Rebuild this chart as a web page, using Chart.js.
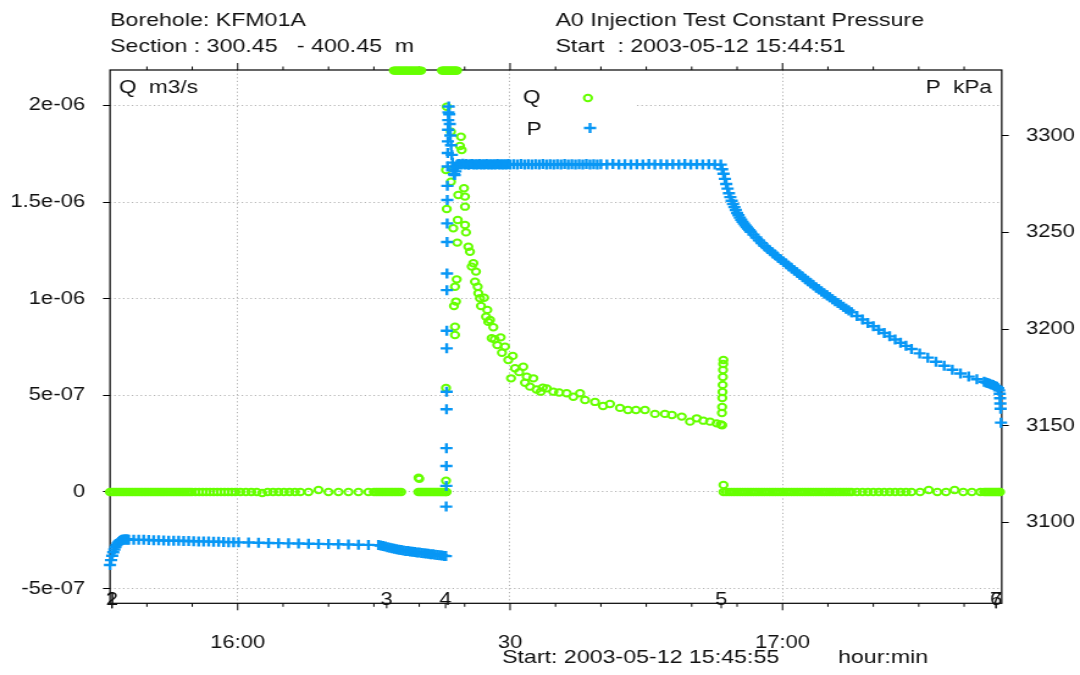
<!DOCTYPE html>
<html>
<head>
<meta charset="utf-8">
<title>KFM01A - A0 Injection Test Constant Pressure</title>
<script src="https://cdn.jsdelivr.net/npm/chart.js@4.4.1/dist/chart.umd.min.js"></script>
<style>
  html, body { margin: 0; padding: 0; background: #fff; }
</style>
</head>
<body>
<!-- drawn at 885 px and stretched to the 1080 px page width -->
<canvas id="grafico" width="885" height="675" style="display:block;width:1080px;height:675px"></canvas>
<script>
// time axis in minutes after 15:00 (2003-05-12)
const timeMin = 45.94;
const timeMax = 144.14;
const minuteTicks = [50, 55, 60, 65, 70, 75, 80, 85, 90, 95, 100, 105, 110, 115, 120, 125, 130, 135, 140];
const majorMinutes = [60, 90, 120];
const majorLabels = ["16:00", "30", "17:00"];

// flow axis (left), m3/s
const qMin = -5.758e-7;
const qMax = 2.183e-6;
const qTicks = [-5e-7, 0, 5e-7, 1e-6, 1.5e-6, 2e-6];
const qTickLabels = ["-5e-07", "0", "5e-07", "1e-06", "1.5e-06", "2e-06"];

// pressure axis (right), kPa
const pMin = 3058.2;
const pMax = 3333.9;
const pTicks = [3100, 3150, 3200, 3250, 3300];
const pTickLabels = ["3100", "3150", "3200", "3250", "3300"];

// test events
const eventMinutes = [46.16, 46.16, 76.41, 82.89, 113.25, 143.51, 143.51];
const eventLabels = ["1", "2", "3", "4", "5", "6", "7"];

// flow readings [minute, m3/s]
const qPoints = [
  [45.94,0],[46.2,0],[46.45,0],[46.7,0],[46.95,0],[47.2,0],[47.45,0],[47.7,0],[47.95,0],[48.2,0],
  [48.45,0],[48.7,0],[48.95,0],[49.2,0],[49.45,0],[49.7,0],[49.95,0],[50.2,0],[50.45,0],[50.7,0],
  [50.95,0],[51.2,0],[51.45,0],[51.7,0],[51.95,0],[52.2,0],[52.45,0],[52.7,0],[52.95,0],[53.2,0],
  [53.45,0],[53.7,0],[53.95,0],[54.2,0],[54.45,0],[54.7,0],[54.95,0],[55.35,0],[55.75,0],[56.15,0],
  [56.55,0],[56.95,0],[57.35,0],[57.75,0],[58.15,0],[58.55,0],[58.95,0],[59.35,0],[59.75,0],
  [60.3,0],[60.9,0],[61.5,0],[62.1,0],[62.7,-5e-9],[63.3,0],[63.9,0],[64.5,0],[65.1,0],[65.7,0],[66.3,0],[66.9,0],
  [67.8,0],[68.9,1e-8],[70.0,0],[71.1,0],[72.2,0],[73.3,0],[74.4,0],
  [75.0,0],[75.25,0],[75.5,0],[75.75,0],[76.0,0],[76.25,0],[76.5,0],[76.75,0],[77.0,0],[77.25,0],[77.5,0],[77.75,0],[78.0,0],
  // off-scale readings, pinned to the top edge
  [77.2,2.18e-6],[77.35,2.18e-6],[77.5,2.18e-6],[77.65,2.18e-6],[77.8,2.18e-6],[77.95,2.18e-6],[78.1,2.18e-6],
  [78.25,2.18e-6],[78.4,2.18e-6],[78.55,2.18e-6],[78.7,2.18e-6],[78.85,2.18e-6],[79.0,2.18e-6],[79.15,2.18e-6],
  [79.3,2.18e-6],[79.45,2.18e-6],[79.6,2.18e-6],[79.75,2.18e-6],[79.9,2.18e-6],[80.05,2.18e-6],[80.2,2.18e-6],
  [79.92,7.4e-8],[80.0,6.8e-8],
  [79.9,0],[80.1,0],[80.3,0],[80.5,0],[80.7,0],[80.9,0],[81.1,0],[81.3,0],[81.5,0],[81.7,0],[81.9,0],
  [82.1,0],[82.3,0],[82.5,0],[82.7,0],[82.9,0],[83.0,0],
  [82.5,2.18e-6],[82.62,2.18e-6],[82.74,2.18e-6],[82.86,2.18e-6],[82.98,2.18e-6],[83.1,2.18e-6],[83.22,2.18e-6],
  [83.34,2.18e-6],[83.46,2.18e-6],[83.58,2.18e-6],[83.7,2.18e-6],[83.82,2.18e-6],[83.94,2.18e-6],[84.06,2.18e-6],[84.15,2.18e-6],
  // injection start and decline
  [82.94,1.666e-6],[82.94,5.38e-7],[82.94,5.8e-8],[83.02,1.993e-6],[83.02,1.464e-6],
  [83.49,1.864e-6],[83.49,1.605e-6],[83.74,1.364e-6],[83.82,9.62e-7],[83.93,1.062e-6],[83.93,8.55e-7],[83.93,8.12e-7],
  [84.04,9.85e-7],[84.12,1.1e-6],[84.18,1.29e-6],[84.23,1.407e-6],[84.29,1.536e-6],[84.48,1.79e-6],[84.59,1.838e-6],
  [84.67,1.769e-6],[84.92,1.571e-6],[85.03,1.528e-6],[85.03,1.476e-6],[85.03,1.381e-6],[85.14,1.343e-6],[85.4,1.269e-6],
  [85.58,1.243e-6],[85.77,1.166e-6],[85.95,1.183e-6],[86.13,1.088e-6],[86.24,1.14e-6],[86.43,1.062e-6],[86.5,1.028e-6],
  [86.68,1.002e-6],[86.79,9.62e-7],[87.13,1.005e-6],[87.35,9.07e-7],[87.49,9.42e-7],[87.6,8.8e-7],[87.79,8.9e-7],
  [87.97,7.95e-7],[88.15,8.52e-7],[88.3,7.9e-7],[88.59,7.6e-7],[88.96,8.0e-7],[89.1,7.2e-7],[89.44,7.52e-7],
  [89.8,6.83e-7],[90.1,5.88e-7],[90.29,7.04e-7],[90.54,6.4e-7],[91.0,6.2e-7],[91.45,6.48e-7],[91.64,5.65e-7],
  [91.83,5.96e-7],[92.19,5.45e-7],[92.56,5.88e-7],[92.9,5.3e-7],[93.37,5.19e-7],[93.6,5.4e-7],[94.03,5.36e-7],
  [94.76,5.19e-7],[95.4,5.15e-7],[96.23,5.11e-7],[96.96,4.93e-7],[97.7,5.11e-7],
  [98.25,4.76e-7],[99.35,4.66e-7],[100.23,4.45e-7],[101.0,4.55e-7],[102.1,4.35e-7],[102.98,4.24e-7],[103.86,4.24e-7],
  [104.85,4.24e-7],[105.95,4.04e-7],[107.05,4.04e-7],[107.82,3.98e-7],[108.9,3.9e-7],[109.81,3.64e-7],[110.55,3.81e-7],
  [111.28,3.69e-7],[112.02,3.64e-7],[112.75,3.55e-7],[113.2,3.5e-7],[113.3,3.47e-7],[113.35,3.45e-7],
  // stop
  [113.33,4.09e-7],[113.35,4.4e-7],[113.37,4.86e-7],[113.39,5.17e-7],[113.41,5.54e-7],[113.43,5.95e-7],
  [113.45,6.31e-7],[113.47,6.62e-7],[113.49,6.83e-7],[113.5,3.6e-8],
  // recovery, no flow
  [113.5,0],[113.8,0],[114.1,0],[114.4,0],[114.7,0],[115.0,0],[115.3,0],[115.6,0],[115.9,0],[116.2,0],
  [116.5,0],[116.8,0],[117.1,0],[117.4,0],[117.7,0],[118.0,0],[118.3,0],[118.6,0],[118.9,0],[119.2,0],
  [119.5,0],[119.8,0],[120.1,0],[120.4,0],[120.7,0],[121.0,0],[121.3,0],[121.6,0],[121.9,0],[122.2,0],
  [122.5,0],[122.8,0],[123.1,0],[123.4,0],[123.7,0],[124.0,0],[124.3,0],[124.6,0],[124.9,0],[125.2,0],
  [125.5,0],[125.8,0],[126.1,0],[126.4,0],[126.7,0],[127.0,0],[127.3,0],[127.6,0],
  [128.2,0],[128.8,0],[129.4,0],[130.0,0],[130.6,0],[131.2,0],[131.8,0],[132.4,0],[133.0,0],[133.6,0],[134.2,0],
  [135.15,0],[136.1,1e-8],[137.05,0],[138.0,0],[138.95,1e-8],[139.9,0],[140.85,0],[141.8,0],
  [142.2,0],[142.4,0],[142.6,0],[142.8,0],[143.0,0],[143.2,0],[143.4,0],[143.6,0],[143.8,0],[143.95,0]
];

// pressure readings [minute, kPa]
const pPoints = [
  [45.94,3078.0],[46.06,3080.5],[46.18,3082.8],[46.3,3084.6],[46.42,3086.0],[46.54,3087.3],[46.66,3088.3],
  [46.78,3089.2],[46.9,3089.9],[47.02,3090.4],[47.14,3090.8],[47.26,3091.0],[47.38,3091.1],[47.5,3091.2],
  [47.62,3091.2],[47.74,3091.2],[47.86,3091.2],[48.0,3091.1],
  [48.55,3091.1],[49.1,3091.0],[49.65,3091.0],[50.2,3090.9],[50.75,3090.8],[51.3,3090.8],[51.85,3090.7],
  [52.4,3090.6],[52.95,3090.6],[53.5,3090.5],[54.05,3090.4],[54.6,3090.4],[55.15,3090.3],[55.7,3090.2],
  [56.25,3090.2],[56.8,3090.1],[57.35,3090.0],[57.9,3090.0],[58.45,3089.9],[59.0,3089.8],[59.55,3089.8],
  [60.1,3089.7],[61.2,3089.6],[62.3,3089.5],[63.4,3089.4],[64.5,3089.3],[65.6,3089.2],[66.7,3089.1],
  [67.8,3089.0],[68.9,3088.9],[70.0,3088.8],[71.1,3088.7],[72.2,3088.6],[73.3,3088.5],[74.4,3088.4],[75.5,3088.3],
  [75.75,3088.1],[76.0,3087.8],[76.25,3087.5],[76.5,3087.2],[76.75,3086.9],[77.0,3086.6],[77.25,3086.4],
  [77.5,3086.1],[77.75,3085.9],[78.0,3085.7],[78.25,3085.5],[78.5,3085.3],[78.75,3085.2],[79.0,3085.0],
  [79.25,3084.8],[79.5,3084.7],[79.75,3084.5],[80.0,3084.4],[80.25,3084.2],[80.5,3084.1],[80.75,3083.9],
  [81.0,3083.8],[81.25,3083.6],[81.5,3083.5],[81.75,3083.3],[82.0,3083.2],[82.25,3083.0],[82.5,3082.9],
  [82.75,3082.7],[82.92,3082.6],
  // pressure build-up
  [82.96,3108.2],[82.97,3118.9],[82.98,3129.2],[82.99,3138.4],[83.0,3158.5],[83.01,3167.6],[83.02,3190.0],
  [83.03,3199.1],[83.04,3220.1],[83.05,3228.7],[83.06,3245.0],[83.07,3254.6],[83.08,3266.7],[83.09,3274.0],
  [83.11,3284.0],[83.13,3291.0],[83.15,3297.0],[83.17,3303.0],[83.19,3308.0],[83.21,3312.0],[83.24,3315.0],
  [83.3,3311.0],[83.36,3306.0],[83.42,3300.0],[83.5,3295.0],[83.58,3290.0],[83.66,3286.0],[83.74,3282.5],
  [83.82,3280.0],[83.9,3279.6],[83.98,3281.5],[84.06,3283.5],[84.14,3284.6],[84.22,3285.2],
  // constant head
  [84.4,3285.3],[84.6,3285.0],[84.8,3285.4],[85.0,3285.1],[85.2,3285.3],[85.4,3284.9],[85.6,3285.2],
  [85.8,3285.3],[86.0,3285.0],[86.2,3285.2],[86.4,3285.1],[86.6,3285.3],[86.8,3285.0],[87.0,3285.2],
  [87.2,3285.1],[87.4,3285.3],[87.6,3285.0],[87.8,3285.2],[88.0,3285.1],[88.2,3285.2],[88.4,3285.0],
  [88.6,3285.3],[88.8,3285.1],[89.0,3285.2],[89.2,3285.0],[89.4,3285.2],[89.6,3285.1],[89.8,3285.3],[90.0,3285.0],
  [90.4,3285.2],[90.8,3285.1],[91.2,3285.3],[91.6,3285.0],[92.0,3285.2],[92.4,3285.1],[92.8,3285.2],
  [93.2,3285.0],[93.6,3285.3],[94.0,3285.1],[94.4,3285.2],[94.8,3285.0],[95.2,3285.2],[95.6,3285.1],
  [96.0,3285.3],[96.4,3285.0],[96.8,3285.2],[97.2,3285.1],[97.6,3285.2],[98.0,3285.0],[98.4,3285.3],
  [98.8,3285.1],[99.2,3285.2],[99.6,3285.0],[100.0,3285.2],
  [100.66,3285.1],[101.32,3285.3],[101.98,3285.0],[102.64,3285.2],[103.3,3285.1],[103.96,3285.2],
  [104.62,3285.0],[105.28,3285.3],[105.94,3285.1],[106.6,3285.2],[107.26,3285.0],[107.92,3285.2],
  [108.58,3285.1],[109.24,3285.3],[109.9,3285.0],[110.56,3285.2],[111.22,3285.1],[111.88,3285.2],
  [112.54,3285.0],[113.2,3285.0],
  // recovery
  [113.35,3282.6],[113.5,3280.3],[113.65,3277.6],[113.8,3275.0],[113.95,3272.6],[114.1,3270.2],[114.25,3268.2],
  [114.4,3266.3],[114.55,3264.6],[114.7,3263.0],[114.85,3261.5],[115.0,3260.0],[115.15,3258.8],[115.3,3257.6],
  [115.45,3256.5],[115.6,3255.4],[115.75,3254.5],[115.9,3253.6],[116.05,3252.7],[116.2,3251.9],[116.35,3251.1],
  [116.5,3250.3],[116.8,3248.8],[117.1,3247.3],[117.4,3245.8],
  [117.7,3244.4],[118.0,3243.0],[118.3,3241.8],[118.6,3240.6],[118.9,3239.4],[119.2,3238.2],[119.5,3237.0],
  [119.8,3235.9],[120.1,3234.8],[120.4,3233.7],[120.7,3232.5],[121.0,3231.4],[121.3,3230.3],[121.6,3229.2],
  [121.9,3228.1],[122.2,3227.0],[122.5,3225.9],[122.8,3224.8],[123.1,3223.6],[123.4,3222.6],[123.7,3221.5],
  [124.0,3220.5],[124.3,3219.4],[124.6,3218.4],[124.9,3217.4],[125.2,3216.4],[125.5,3215.4],[125.8,3214.4],
  [126.1,3213.4],[126.4,3212.5],[126.7,3211.5],[127.0,3210.5],[127.3,3209.6],[127.6,3208.6],
  [128.2,3206.7],[128.8,3204.9],[129.4,3203.1],[130.0,3201.4],[130.6,3199.6],[131.2,3197.9],[131.8,3196.2],
  [132.4,3194.6],[133.0,3192.9],[133.6,3191.3],[134.2,3189.7],
  [135.1,3187.4],[136.0,3185.2],[136.9,3183.1],[137.8,3181.0],[138.7,3178.9],[139.6,3177.0],[140.5,3175.4],
  [141.4,3174.0],[142.2,3172.7],
  [142.4,3172.4],[142.6,3172.1],[142.8,3171.7],[143.0,3171.3],[143.2,3171.0],[143.4,3170.6],[143.6,3170.1],
  [143.75,3169.4],[143.85,3168.3],[143.92,3166.5],[143.96,3164.2],[143.99,3161.5],[144.02,3158.8],[144.06,3151.6]
];

const qColor = "#66ff00";
const pColor = "#0897f5";
const gridColor = "#b3b3b3";
const FONT = '"Liberation Sans", Arial, sans-serif';
const qRadius = 3.2;
const qBorder = 2;
const pRadius = 5;
const pBorder = 2.4;

// frame, minute ticks and event marks go under the data
const framePlugin = {
  id: "frame",
  beforeDatasetsDraw(chart) {
    const { ctx, chartArea: a } = chart;
    const x = chart.scales.x;
    ctx.save();
    ctx.strokeStyle = "#000";
    ctx.lineWidth = 1.2;
    ctx.strokeRect(a.left, a.top, a.right - a.left, a.bottom - a.top);

    ctx.lineWidth = 1;
    ctx.beginPath();
    minuteTicks.forEach(v => {
      const px = x.getPixelForValue(v);
      const len = majorMinutes.includes(v) ? 7 : 3.5;
      ctx.moveTo(px, a.bottom); ctx.lineTo(px, a.bottom + len);
      ctx.moveTo(px, a.top); ctx.lineTo(px, a.top - len);
    });
    eventMinutes.forEach(v => {
      const px = x.getPixelForValue(v);
      ctx.moveTo(px, a.bottom); ctx.lineTo(px, a.bottom + 5);
    });
    ctx.stroke();
    ctx.restore();
  },
  afterDatasetsDraw(chart) {
    const { ctx, chartArea: a } = chart;
    const x = chart.scales.x;
    ctx.save();
    ctx.fillStyle = "#111";
    ctx.textBaseline = "alphabetic";

    // time labels and event numbers
    ctx.font = "18px " + FONT;
    ctx.textAlign = "center";
    majorMinutes.forEach((v, i) => ctx.fillText(majorLabels[i], x.getPixelForValue(v), 647.5));
    eventMinutes.forEach((v, i) => ctx.fillText(eventLabels[i], x.getPixelForValue(v), 604.5));

    // header and footer
    ctx.textAlign = "left";
    ctx.font = "19px " + FONT;
    ctx.fillText("Borehole: KFM01A", a.left, 25.5);
    ctx.fillText("Section : 300.45   - 400.45  m", a.left, 51.5);
    ctx.fillText("A0 Injection Test Constant Pressure", 455.2, 25.5);
    ctx.fillText("Start  : 2003-05-12 15:44:51", 455.2, 51.5);
    ctx.fillText("Start: 2003-05-12 15:45:55", 411.4, 663);
    ctx.fillText("hour:min", 686.7, 663);

    // axis units
    ctx.font = "18.5px " + FONT;
    ctx.fillText("Q  m3/s", 97.4, 93);
    ctx.fillText("P  kPa", 758.4, 93);

    // legend
    ctx.fillStyle = "#fff";
    ctx.fillRect(420.4, 76, 101.6, 66);
    ctx.fillStyle = "#111";
    ctx.font = "18.5px " + FONT;
    ctx.fillText("Q", 428.6, 103);
    ctx.fillText("P", 431.5, 135);

    ctx.strokeStyle = qColor;
    ctx.lineWidth = qBorder;
    ctx.beginPath();
    ctx.arc(481.8, 98, qRadius, 0, Math.PI * 2);
    ctx.stroke();

    ctx.strokeStyle = pColor;
    ctx.lineWidth = pBorder;
    ctx.beginPath();
    ctx.moveTo(483.5 - pRadius, 128); ctx.lineTo(483.5 + pRadius, 128);
    ctx.moveTo(483.5, 128 - pRadius); ctx.lineTo(483.5, 128 + pRadius);
    ctx.stroke();
    ctx.restore();
  }
};

const ctx = document.getElementById("grafico").getContext("2d");
new Chart(ctx, {
  type: "scatter",
  data: {
    datasets: [
      {
        label: "Q",
        data: qPoints.map(([t, q]) => ({ x: t, y: q })),
        yAxisID: "yQ",
        order: 2,
        clip: false,
        pointStyle: "circle",
        pointRadius: qRadius,
        pointBorderWidth: qBorder,
        pointBorderColor: qColor,
        pointBackgroundColor: "rgba(0,0,0,0)"
      },
      {
        label: "P",
        data: pPoints.map(([t, p]) => ({ x: t, y: p })),
        yAxisID: "yP",
        order: 1,
        clip: false,
        pointStyle: "cross",
        pointRadius: pRadius,
        pointBorderWidth: pBorder,
        pointBorderColor: pColor,
        pointBackgroundColor: pColor
      }
    ]
  },
  options: {
    responsive: false,
    animation: false,
    devicePixelRatio: 1,
    layout: { padding: { top: 70, left: 0, right: 0, bottom: 0 } },
    plugins: { legend: { display: false }, tooltip: { enabled: false } },
    scales: {
      x: {
        type: "linear",
        min: timeMin,
        max: timeMax,
        afterFit: s => { s.height = 71.7; },
        afterBuildTicks: s => { s.ticks = minuteTicks.map(v => ({ value: v })); },
        ticks: { display: false },
        grid: {
          drawTicks: false,
          lineWidth: 1,
          color: c => (c.tick && majorMinutes.includes(c.tick.value)) ? gridColor : "rgba(0,0,0,0)"
        },
        border: { display: false, dash: [1.2, 2.4] }
      },
      yQ: {
        type: "linear",
        position: "left",
        min: qMin,
        max: qMax,
        afterFit: s => { s.width = 90.14; },
        afterBuildTicks: s => { s.ticks = qTicks.map(v => ({ value: v })); },
        ticks: {
          padding: 14.75,
          color: "#111",
          font: { family: FONT, size: 18 },
          callback: (v, i) => qTickLabels[i]
        },
        grid: { color: gridColor, lineWidth: 1, drawTicks: true, tickLength: 5.74, tickColor: "#000", tickWidth: 1 },
        border: { display: false, dash: [1.2, 2.4] }
      },
      yP: {
        type: "linear",
        position: "right",
        min: pMin,
        max: pMax,
        afterFit: s => { s.width = 64.14; },
        afterBuildTicks: s => { s.ticks = pTicks.map(v => ({ value: v })); },
        ticks: {
          padding: 14.2,
          color: "#111",
          font: { family: FONT, size: 18 },
          callback: (v, i) => pTickLabels[i]
        },
        grid: { drawOnChartArea: false, drawTicks: true, tickLength: 5.74, tickColor: "#000", tickWidth: 1 },
        border: { display: false }
      }
    }
  },
  plugins: [framePlugin]
});
</script>
</body>
</html>
